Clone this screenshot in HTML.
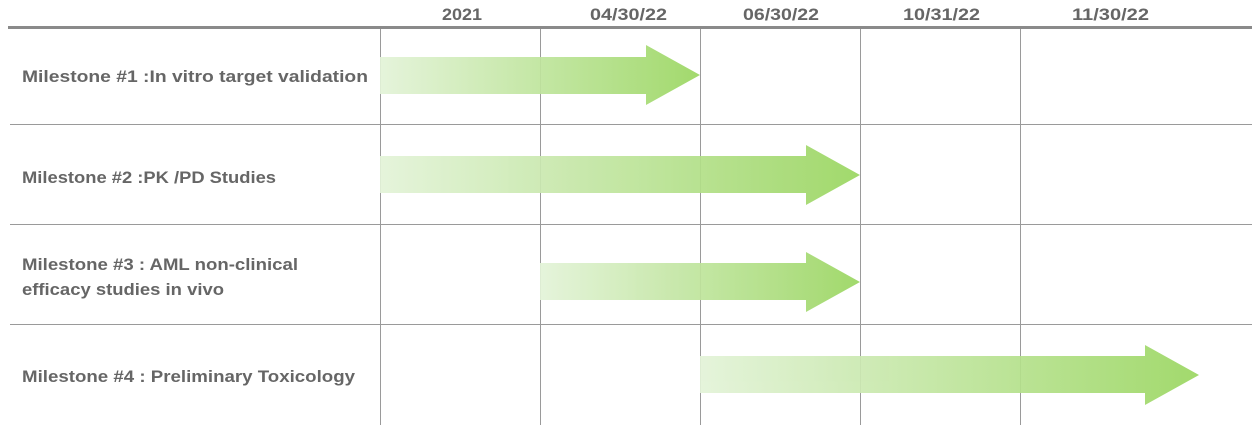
<!DOCTYPE html>
<html><head><meta charset="utf-8"><style>
html,body{margin:0;padding:0;background:#fff;}
svg{display:block;}
text{font-family:"Liberation Sans",sans-serif;font-weight:bold;fill:#666;}
</style></head><body>
<svg width="1252" height="425" xmlns="http://www.w3.org/2000/svg">
<defs>
<linearGradient id="g" x1="0" x2="1" y1="0" y2="0">
<stop offset="0" stop-color="#e3f3d8"/>
<stop offset="1" stop-color="#9ad660"/>
</linearGradient>
</defs>
<g font-size="17" lengthAdjust="spacingAndGlyphs">
<text x="442" y="20" textLength="40" lengthAdjust="spacingAndGlyphs">2021</text>
<text x="590" y="20" textLength="77" lengthAdjust="spacingAndGlyphs">04/30/22</text>
<text x="743" y="20" textLength="76" lengthAdjust="spacingAndGlyphs">06/30/22</text>
<text x="903" y="20" textLength="77" lengthAdjust="spacingAndGlyphs">10/31/22</text>
<text x="1072" y="20" textLength="77" lengthAdjust="spacingAndGlyphs">11/30/22</text>
</g>
<rect x="8" y="26" width="1244" height="3" fill="#8a8a8a"/>
<g stroke="#9a9a9a" stroke-width="1">
<line x1="10" y1="124.5" x2="1252" y2="124.5"/>
<line x1="10" y1="224.5" x2="1252" y2="224.5"/>
<line x1="10" y1="324.5" x2="1252" y2="324.5"/>
<line x1="380.5" y1="29" x2="380.5" y2="425"/>
<line x1="540.5" y1="29" x2="540.5" y2="425"/>
<line x1="700.5" y1="29" x2="700.5" y2="425"/>
<line x1="860.5" y1="29" x2="860.5" y2="425"/>
<line x1="1020.5" y1="29" x2="1020.5" y2="425"/>
</g>
<g fill="url(#g)" opacity="0.92">
<path d="M380 57H646V45L700 75L646 105V94H380Z"/>
<path d="M380 156H806V145L860 175L806 205V193H380Z"/>
<path d="M540 263H806V252L860 282L806 312V300H540Z"/>
<path d="M700 356H1145V345L1199 375L1145 405V393H700Z"/>
</g>
<g font-size="17">
<text x="22" y="82" textLength="346" lengthAdjust="spacingAndGlyphs">Milestone #1 :In vitro target validation</text>
<text x="22" y="183" textLength="254" lengthAdjust="spacingAndGlyphs">Milestone #2 :PK /PD Studies</text>
<text x="22" y="270" textLength="276" lengthAdjust="spacingAndGlyphs">Milestone #3 : AML non-clinical</text>
<text x="22" y="295" textLength="202" lengthAdjust="spacingAndGlyphs">efficacy studies in vivo</text>
<text x="22" y="382" textLength="333" lengthAdjust="spacingAndGlyphs">Milestone #4 : Preliminary Toxicology</text>
</g>
</svg>
</body></html>
